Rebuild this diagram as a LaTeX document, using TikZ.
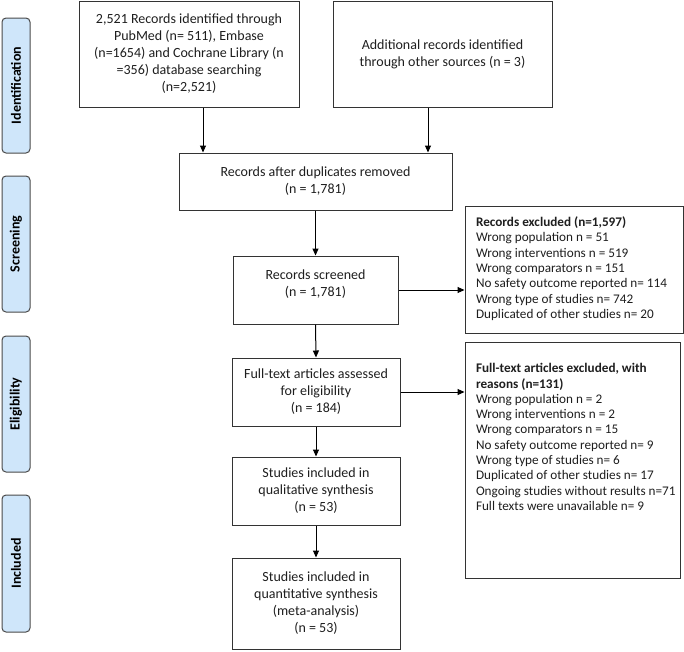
\documentclass[tikz,border=0pt]{standalone}
\usepackage{fontspec}
\setmainfont{Carlito}
\usetikzlibrary{arrows.meta}
\definecolor{lanefill}{HTML}{CFE6FA}
\definecolor{laneline}{HTML}{4A4A4A}
\definecolor{boxline}{HTML}{333333}
\definecolor{txt}{HTML}{1E1E1E}
\begin{document}
\begin{tikzpicture}[x=1pt,y=-1pt,
  box/.style={draw=boxline, line width=1pt, align=center, inner sep=0pt, text=txt,
    font=\fontsize{14}{17}\selectfont},
  sidebox/.style={draw=boxline, line width=1pt, inner sep=0pt, text=txt,
    font=\fontsize{13.2}{15.3}\selectfont},
  lane/.style={draw=laneline, fill=lanefill, line width=1pt, rounded corners=4pt,
    rotate=90, minimum height=28pt, inner sep=0pt, text=black,
    font=\bfseries\fontsize{14}{16}\selectfont},
  arr/.style={draw=black, line width=1pt, -{Triangle[length=7pt,width=6pt]}}
]
\useasboundingbox (0,0) rectangle (684,651);

% lanes
\node[lane, minimum width=135pt] (L1) at (16,85.5) {Identification};
\node[lane, minimum width=136pt] (L2) at (16,244) {Screening};
\node[lane, minimum width=136pt] (L3) at (16,404) {Eligibility};
\node[lane, minimum width=137pt] (L4) at (16,563.5) {Included};

% main boxes
\node[box, minimum width=220pt, minimum height=106pt] (A) at (189,54)
  {2,521 Records identified through\\PubMed (n= 511), Embase\\(n=1654) and Cochrane Library (n\\=356) database searching\\(n=2,521)};
\node[box, minimum width=219pt, minimum height=106pt] (B) at (442.5,54)
  {Additional records identified\\through other sources (n = 3)};
\node[box, minimum width=273pt, minimum height=57pt] (C) at (315.5,181.5)
  {Records after duplicates removed\\(n = 1,781)};
\node[box, minimum width=165pt, minimum height=68pt] (D) at (315.5,290)
  {Records screened\\(n = 1,781)\\[-3pt]\mbox{}};
\node[box, minimum width=168pt, minimum height=68pt] (F) at (316,392)
  {Full-text articles assessed\\for eligibility\\(n = 184)};
\node[box, minimum width=168pt, minimum height=68pt] (G) at (316,491)
  {Studies included in\\qualitative synthesis\\(n = 53)};
\node[box, minimum width=168pt, minimum height=91pt] (H) at (316,603.5)
  {Studies included in\\quantitative synthesis\\(meta-analysis)\\(n = 53)};

% side boxes
\node[sidebox, minimum width=218pt, minimum height=127pt] (E1) at (574,269.5)
  {\makebox[196pt][l]{\begin{tabular}{@{}l@{}}\textbf{Records excluded (n=1,597)}\\
   Wrong population n = 51\\
   Wrong interventions n = 519\\
   Wrong comparators n = 151\\
   No safety outcome reported n= 114\\
   Wrong type of studies n= 742\\
   Duplicated of other studies n= 20\end{tabular}}};
\node[sidebox, minimum width=215pt, minimum height=236pt] (E2) at (572.5,460)
  {\parbox[c][196pt][t]{193pt}{\begin{tabular}[t]{@{}l@{}}\textbf{Full-text articles excluded, with}\\
   \textbf{reasons (n=131)}\\
   Wrong population n = 2\\
   Wrong interventions n = 2\\
   Wrong comparators n = 15\\
   No safety outcome reported n= 9\\
   Wrong type of studies n= 6\\
   Duplicated of other studies n= 17\\
   Ongoing studies without results n=71\\
   Full texts were unavailable n= 9\end{tabular}}};

% connectors
\draw[arr] ([xshift=14pt]A.south) -- ([xshift=14pt]A.south |- C.north);
\draw[arr] ([xshift=-14.5pt]B.south) -- ([xshift=-14.5pt]B.south |- C.north);
\draw[arr] (C.south) -- (D.north);
\draw[arr] (D.east) -- (D.east -| E1.west);
\draw[arr] (D.south) -- (F.north);
\draw[arr] (F.east) -- (F.east -| E2.west);
\draw[arr] (F.south) -- (G.north);
\draw[arr] (G.south) -- (H.north);
\end{tikzpicture}
\end{document}
